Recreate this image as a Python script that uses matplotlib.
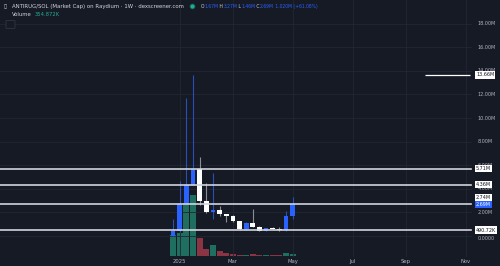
import numpy as np
import matplotlib
matplotlib.use("Agg")
import matplotlib.pyplot as plt
from matplotlib.transforms import blended_transform_factory
from matplotlib.patches import FancyBboxPatch

# --- DATA (market cap in millions, volume in thousands) ---
opens  = [0.03, 0.40, 2.71, 4.30, 5.65, 2.97, 2.03, 2.23, 1.84, 1.72, 1.25, 0.57, 1.13, 0.79, 0.45, 0.65, 0.63, 0.50, 1.67]
highs  = [1.47, 4.66, 11.67, 13.66, 6.67, 4.49, 5.36, 2.57, 1.90, 1.80, 1.30, 1.20, 2.26, 0.85, 0.70, 0.75, 0.79, 2.12, 3.27]
lows   = [0.00, 0.38, 2.70, 4.30, 2.63, 1.92, 1.42, 1.70, 1.19, 1.20, 0.50, 0.50, 0.75, 0.40, 0.42, 0.58, 0.45, 0.45, 1.46]
closes = [0.40, 2.71, 4.30, 5.65, 2.97, 2.03, 2.23, 1.84, 1.67, 1.25, 0.57, 1.13, 0.79, 0.45, 0.65, 0.63, 0.50, 1.67, 2.69]
volume = [3240, 3500, 8130, 9410, 2820, 1030, 1650, 770, 510, 310, 230, 155, 310, 110, 80, 110, 200, 510, 354.872]

tick_idx = [1, 9, 18, 27, 35, 44]
tick_labels = ["2025", "Mar", "May", "Jul", "Sep", "Nov"]

price_ticks = [0, 2, 4, 6, 8, 10, 12, 14, 16, 18]
level_lines = [5.71, 4.36, 2.74, 0.49072]
level_text = ["5.71M", "4.36M", "2.74M", "490.72K"]
ath = 13.66

BG = "#161a25"
GRID = "#232733"
TXT = "#b2b5be"
BLUE = "#2962ff"
WICK_BLUE = "#2b4fb8"
WICK_WHITE = "#8a8d95"
VOL_UP = "#1f6f61"
VOL_DN = "#8b3443"

fig = plt.figure(figsize=(5.0, 2.66), dpi=100)
fig.patch.set_facecolor(BG)

vax = fig.add_axes([0, 0, 1, 1])
ax = fig.add_axes([0, 0, 1, 1], sharex=vax)
vax.set_zorder(0)
ax.set_zorder(1)
ax.patch.set_visible(False)
vax.set_facecolor(BG)
for a in (ax, vax):
    a.set_xticks([])
    a.set_yticks([])
    for s in a.spines.values():
        s.set_visible(False)

ax.set_xlim(-26.02, 49.17)
ax.set_ylim(-2.542, 20.0)
vax.set_ylim(-1543, 39500)

x = np.arange(len(opens))
pane_right = 0.942

# grid
for v in price_ticks:
    ax.axhline(v, xmin=0, xmax=pane_right, color=GRID, lw=0.6, zorder=0)
for t in tick_idx:
    ax.axvline(t, ymin=10 / 266, ymax=1, color=GRID, lw=0.6, zorder=0)

# volume
vcol = [VOL_UP if c >= o else VOL_DN for o, c in zip(opens, closes)]
vax.bar(x, volume, width=0.9, color=vcol, zorder=2)

# candles
for i in range(len(opens)):
    up = closes[i] >= opens[i]
    body_c = BLUE if up else "#ffffff"
    wick_c = WICK_BLUE if up else WICK_WHITE
    ax.vlines(x[i], lows[i], highs[i], color=wick_c, lw=0.8, zorder=3)
    lo, hi = sorted((opens[i], closes[i]))
    ax.bar(x[i], max(hi - lo, 0.06), bottom=lo, width=0.7, color=body_c, zorder=4)

# level lines
for v in level_lines:
    ax.axhline(v, xmin=0, xmax=pane_right, color="#d1d4dc", lw=1.2, zorder=5)
ax.hlines(ath, 37.95, 44.7, color="#ffffff", lw=0.9, zorder=5)

# right price scale
rtr = blended_transform_factory(ax.transAxes, ax.transData)
for v in price_ticks:
    lab = "0.0000" if v == 0 else f"{v:.2f}M"
    yoff = -1.5 if v == 0 else 0
    ax.annotate(lab, (0.955, v), xycoords=rtr, xytext=(0, yoff), textcoords="offset points",
                ha="left", va="center", fontsize=3.5, color=TXT, zorder=6)

box = dict(boxstyle="square,pad=0.25", fc="#ffffff", ec="none")
for v, lab in zip(level_lines + [ath], level_text + ["13.66M"]):
    yoff = 4.5 if lab == "2.74M" else 0
    ax.annotate(lab, (0.952, v), xycoords=rtr, xytext=(0, yoff), textcoords="offset points",
                ha="left", va="center", fontsize=3.5, color="#131722", bbox=box, zorder=8)
ax.annotate(f"{closes[-1]:.2f}M", (0.952, closes[-1]), xycoords=rtr,
            ha="left", va="center", fontsize=3.5, color="#ffffff", zorder=9,
            bbox=dict(boxstyle="square,pad=0.25", fc=BLUE, ec="none"))

# time axis labels
ttr = blended_transform_factory(ax.transData, ax.transAxes)
for t, lab in zip(tick_idx, tick_labels):
    ax.text(t, 1 - 261.5 / 266, lab, transform=ttr, ha="center", va="center",
            fontsize=3.8, color=TXT, zorder=6)

# header
ft = fig.transFigure
def fy(py):
    return 1 - py / 266
fig.text(12 / 500, fy(6.5), "ANTIRUG/SOL (Market Cap) on Raydium · 1W · dexscreener.com",
         fontsize=3.9, color="#d1d4dc", va="center", ha="left")
fig.text(4 / 500, fy(6.5), "▯", fontsize=4, color="#d1d4dc", va="center", ha="left")
ax.plot([192 / 500], [fy(6)], marker="o", ms=3.2, color="#22ab94", alpha=0.35,
        transform=ft, zorder=7)
ax.plot([192 / 500], [fy(6)], marker="o", ms=1.8, color="#22ab94", transform=ft, zorder=8)

o, h, l, c = opens[-1], highs[-1], lows[-1], closes[-1]
chg = c - o
parts = [("O", "#d1d4dc"), (f"{o:.2f}M", BLUE), (" H", "#d1d4dc"), (f"{h:.2f}M", BLUE),
         (" L", "#d1d4dc"), (f"{l:.2f}M", BLUE), (" C", "#d1d4dc"), (f"{c:.2f}M", BLUE),
         (f" {chg:.3f}M (+{chg / o * 100:.2f}%)", BLUE)]
fig.canvas.draw()
r = fig.canvas.get_renderer()
xp = 201
for s, col in parts:
    t = fig.text(xp / 500, fy(6.5), s, fontsize=3.25, color=col, va="center", ha="left")
    xp += t.get_window_extent(r).width

t1 = fig.text(12 / 500, fy(15), "Volume", fontsize=3.8, color="#d1d4dc", va="center", ha="left")
w = t1.get_window_extent(r).width
fig.text((12 + w + 3) / 500, fy(15), f"{volume[-1]:.3f}K", fontsize=3.8, color="#22ab94",
         va="center", ha="left")

btn = FancyBboxPatch((7 / 500, fy(28)), 7 / 500, 7 / 266, boxstyle="round,pad=0.002",
                     transform=ft, fc=BG, ec="#363a45", lw=0.5, zorder=7)
fig.patches.append(btn)
fig.text(10.5 / 500, fy(24.8), "^", fontsize=3.5, color="#d1d4dc", ha="center", va="center")

fig.savefig("out.png", dpi=100, facecolor=BG)
